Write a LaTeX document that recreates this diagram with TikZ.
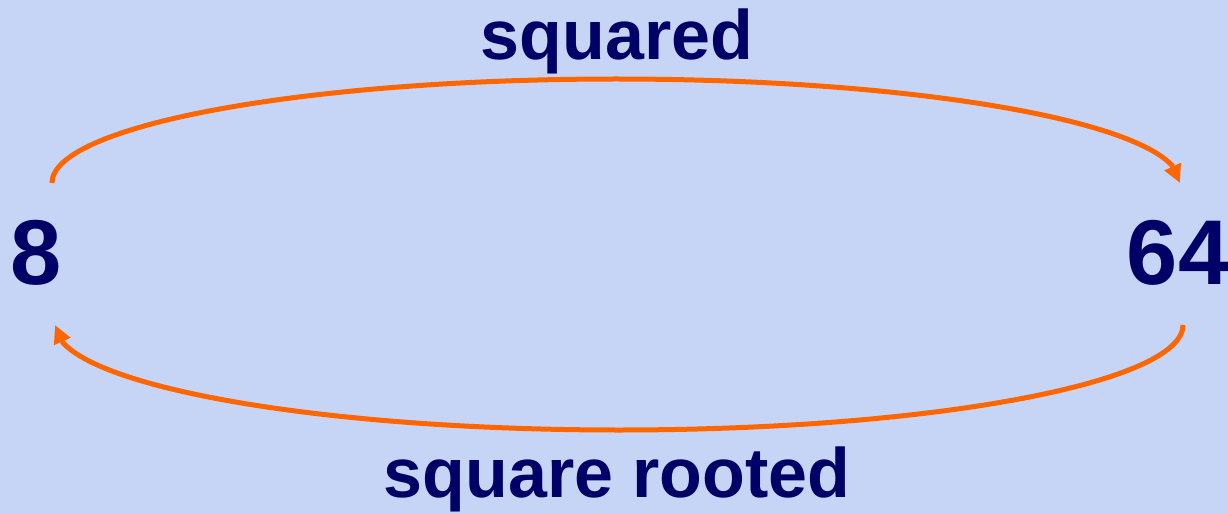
\documentclass[tikz,border=0pt]{standalone}
\usepackage{fontspec}
\setmainfont{Liberation Sans}
\usetikzlibrary{arrows.meta,bending}
\definecolor{bgcol}{RGB}{198,213,246}
\definecolor{navytxt}{RGB}{0,0,102}
\definecolor{arrowcol}{RGB}{255,102,0}
\tikzset{
  numlabel/.style={font=\fontsize{92}{100}\selectfont\bfseries, text=navytxt, inner sep=0pt, anchor=base},
  wordlabel/.style={font=\fontsize{70}{80}\selectfont\bfseries, text=navytxt, inner sep=0pt, anchor=base},
  arc arrow/.style={draw=arrowcol, line width=5pt, -{Triangle[length=18pt,width=17pt,flex]}}
}
\begin{document}
\begin{tikzpicture}[x=1pt,y=-1pt]
  \fill[bgcol] (0,0) rectangle (1228,513);
  \useasboundingbox (0,0) rectangle (1228,513);
  \node[numlabel] (eight) at (36,284) {8};
  \node[numlabel] (sixtyfour) at (1178,284) {64};
  \node[wordlabel] (sq) at (617,60) {squared};
  \node[wordlabel] (sqr) at (617,497) {square rooted};
  \coordinate (topstart) at (52,183);
  \coordinate (botstart) at (1183,325);
  \draw[arc arrow] (topstart) arc[start angle=180, end angle=360, x radius=564, y radius=104];
  \draw[arc arrow] (botstart) arc[start angle=0, end angle=180, x radius=564, y radius=105];
\end{tikzpicture}
\end{document}
